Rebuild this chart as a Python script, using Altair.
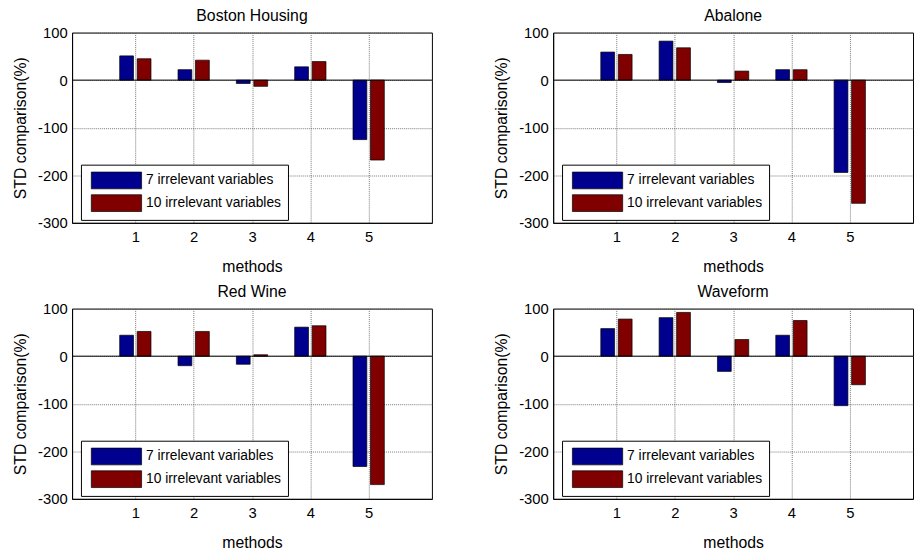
import altair as alt
import pandas as pd

datasets = ["Boston Housing", "Abalone", "Red Wine", "Waveform"]
methods = [1, 2, 3, 4, 5]
series = ["7 irrelevant variables", "10 irrelevant variables"]
colors = ["#00008F", "#800000"]

boston_7 = [51, 22, -7, 28, -125]
boston_10 = [45, 42, -13, 39, -168]
abalone_7 = [59, 82, -5, 22, -194]
abalone_10 = [54, 68, 19, 22, -259]
redwine_7 = [44, -20, -17, 61, -232]
redwine_10 = [52, 52, 3, 64, -270]
waveform_7 = [58, 81, -32, 44, -104]
waveform_10 = [78, 92, 35, 75, -60]

y_ticks = [-300, -200, -100, 0, 100]
FONT = "Liberation Sans"


def panel(name, v7, v10):
    df = pd.DataFrame({
        "method": methods + methods,
        "series": [series[0]] * len(methods) + [series[1]] * len(methods),
        "value": v7 + v10,
    })
    bars = (
        alt.Chart(df)
        .transform_calculate(
            xpos="datum.method + (datum.series == '" + series[0] + "' ? -0.15 : 0.15)"
        )
        .mark_bar(size=14, stroke="black", strokeWidth=0.7, orient="vertical")
        .encode(
            x=alt.X(
                "xpos:Q",
                scale=alt.Scale(domain=[0, 6], nice=False, zero=False),
                axis=alt.Axis(values=methods, title="methods", format="d"),
            ),
            y=alt.Y(
                "value:Q",
                scale=alt.Scale(domain=[-300, 100], nice=False),
                axis=alt.Axis(values=y_ticks, title="STD comparison(%)",
                              labelExpr="'' + datum.value"),
            ),
            color=alt.Color(
                "series:N",
                scale=alt.Scale(domain=series, range=colors),
                legend=alt.Legend(
                    orient="none", legendX=9, legendY=134, title=None,
                    symbolType="M-3,-1L3,-1L3,1L-3,1Z",
                    symbolSize=289, symbolStrokeColor="black",
                    symbolStrokeWidth=0.7, symbolOpacity=1,
                    symbolOffset=20,
                    strokeColor="black", fillColor="white", padding=7,
                    labelFont=FONT, labelFontSize=14, labelColor="black",
                    rowPadding=3, labelOffset=21,
                ),
            ),
        )
    )
    zero = (
        alt.Chart(pd.DataFrame({"v": [0]}))
        .mark_rule(color="black", strokeWidth=1)
        .encode(y="v:Q")
    )
    return alt.layer(bars, zero).properties(
        width=365, height=193,
        title=alt.TitleParams(name, font=FONT, fontSize=16, fontWeight="normal",
                              color="black", anchor="middle", offset=2),
    )


panels = [
    panel(datasets[0], boston_7, boston_10),
    panel(datasets[1], abalone_7, abalone_10),
    panel(datasets[2], redwine_7, redwine_10),
    panel(datasets[3], waveform_7, waveform_10),
]

chart = (
    alt.concat(*panels, columns=2, spacing=alt.RowColnumber(row=8, column=61))
    .resolve_scale(color="independent")
    .properties(padding={"left": 4, "top": -5, "right": 0, "bottom": 0})
    .configure(background="white")
    .configure_view(stroke="black", strokeWidth=1)
    .configure_axis(
        labelFont=FONT, labelFontSize=15, labelColor="black",
        titleFont=FONT, titleFontSize=16, titleFontWeight="normal", titleColor="black",
        grid=True, gridColor="#555555", gridDash=[1, 1], gridWidth=0.8,
        ticks=False, domainColor="black", domainWidth=1, labelPadding=5,
    )
    .configure_axisY(titlePadding=9)
    .configure_axisX(titlePadding=14, labelPadding=7)
)

chart.save("out.html", embed_options={"renderer": "svg", "actions": False})
